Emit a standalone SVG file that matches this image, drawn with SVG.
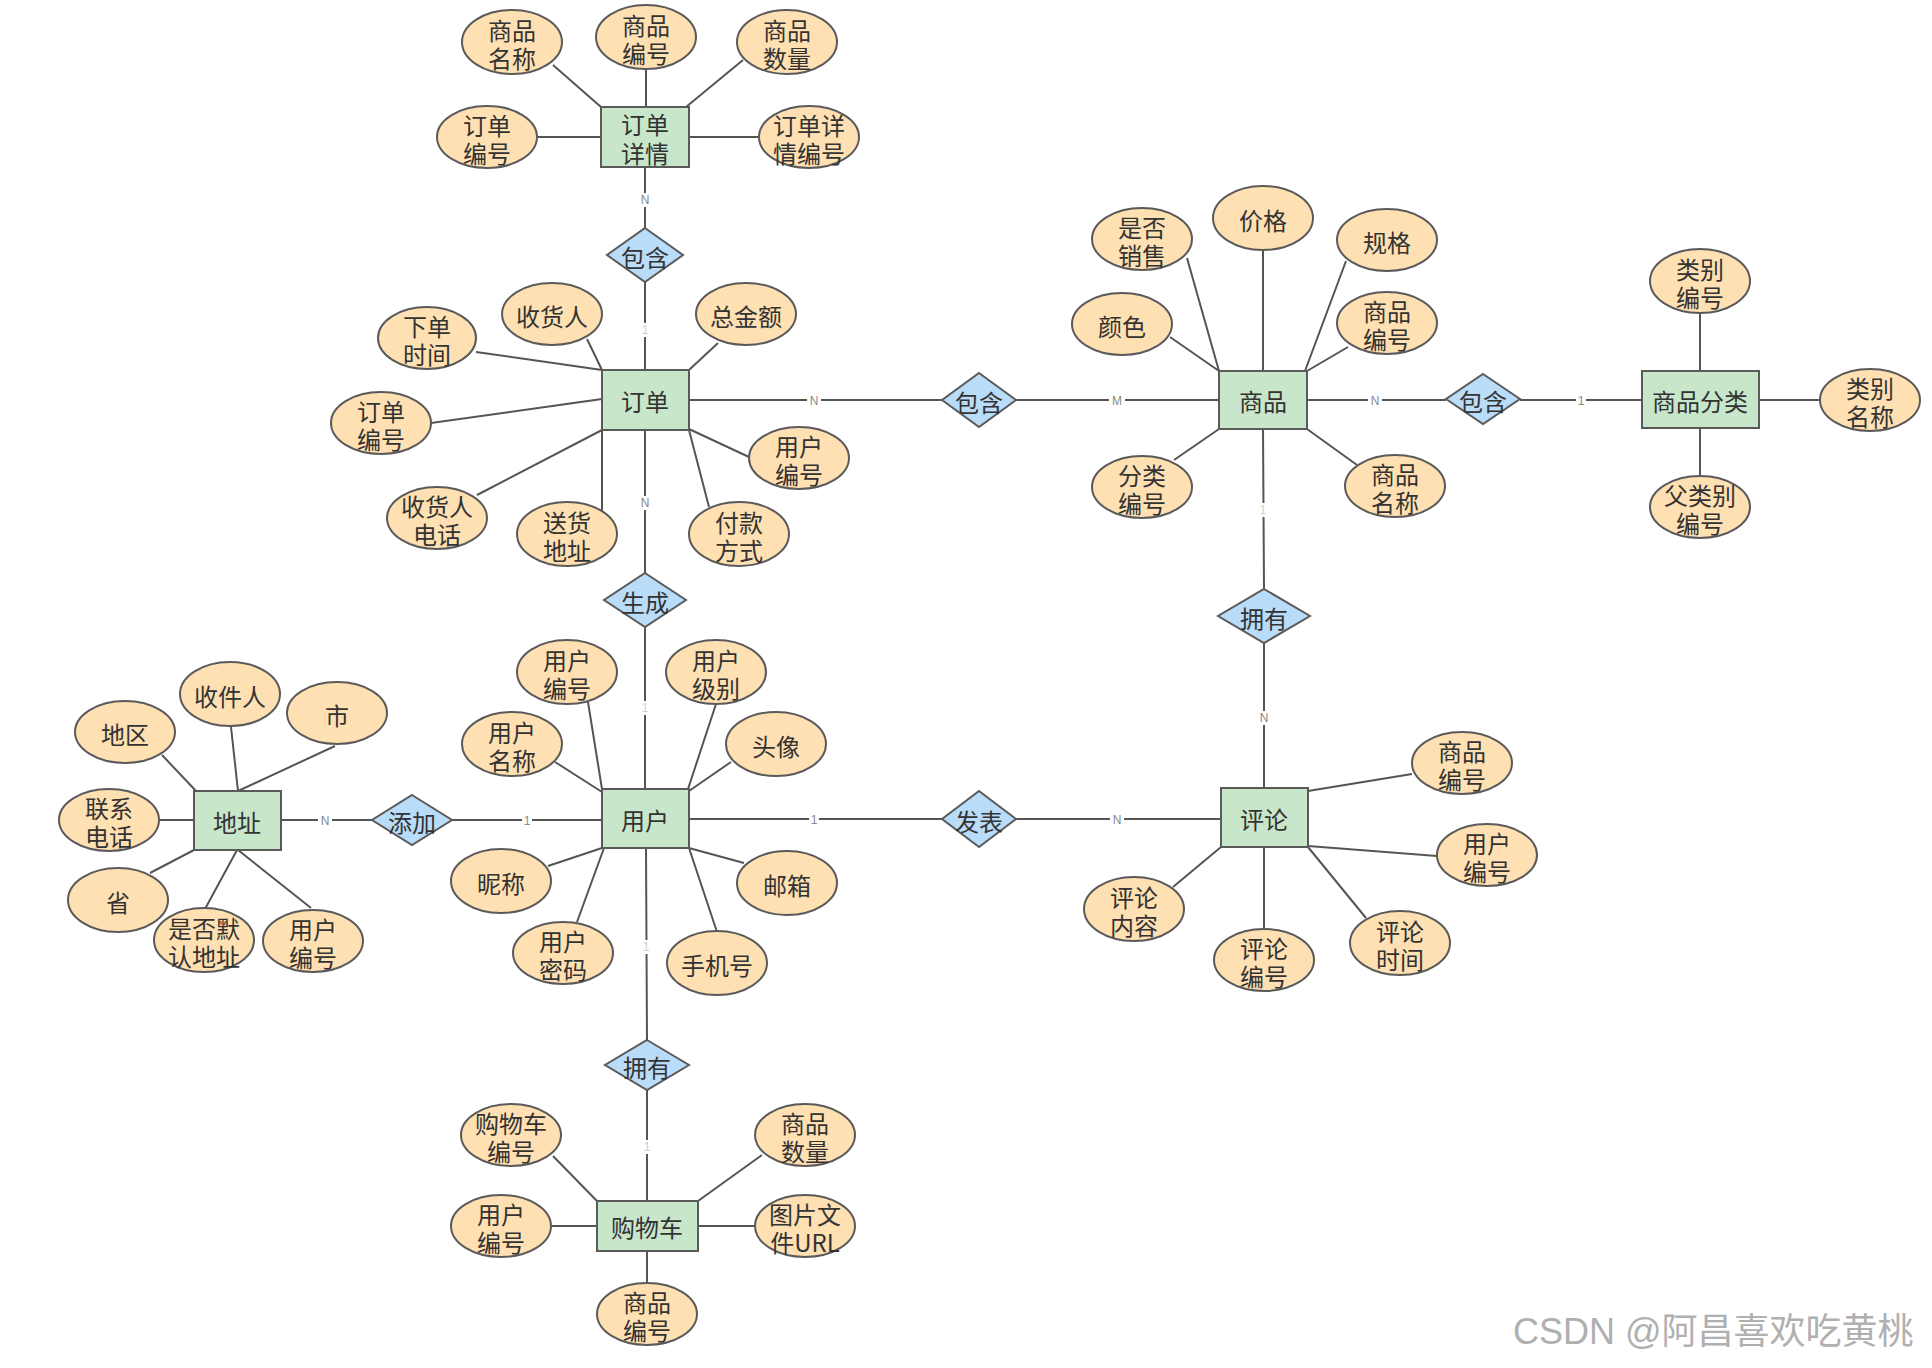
<svg xmlns="http://www.w3.org/2000/svg" width="1932" height="1368" viewBox="0 0 1932 1368">
<style>
.attr{fill:#fee0b2;stroke:#5a5a5a;stroke-width:2}
.ent{fill:#c8e6c9;stroke:#5a5a5a;stroke-width:2}
.rel{fill:#b9dcf8;stroke:#5a5a5a;stroke-width:2}
.ln{stroke:#555;stroke-width:2;fill:none}
.t{font-family:"Noto Sans CJK SC","Noto Sans",sans-serif;font-size:24px;fill:#333;text-anchor:middle;dominant-baseline:central}
.lb{font-family:"Liberation Sans","Noto Sans",sans-serif;font-size:12px;fill:#888;text-anchor:middle;dominant-baseline:central}
.lb1{font-family:"Liberation Sans","Noto Sans",sans-serif;font-size:12px;fill:#cfcfcf;text-anchor:middle;dominant-baseline:central}
.bg{fill:#fff}
.wm{font-family:"Liberation Sans","Noto Sans CJK SC",sans-serif;font-size:36px;fill:#b0b0b0}
</style>
<rect width="1932" height="1368" fill="#fff"/>
<g id="connectors">
<path class="ln" d="M553 65L601 107M646 69L646 107M743 60L686 107M537 137L601 137M759 137L689 137"/>
<path class="ln" d="M476 352L602 370M587 339L602 370M718 343L689 370M431 423L602 399M477 495L602 430M602 511L602 430M709 507L689 430M749 457L689 429"/>
<path class="ln" d="M1187 258L1219 371M1263 250L1263 371M1346 261L1305 371M1170 337L1219 371M1348 347L1307 371M1174 460L1219 429M1357 465L1307 429"/>
<path class="ln" d="M1700 313L1700 371M1759 400L1820 400M1700 428L1700 476"/>
<path class="ln" d="M162 755L196 791M231 727L238 791M335 746L238 791M159 820L194 820M150 873L194 850M205 909L237 850M311 908L238 850"/>
<path class="ln" d="M588 702L602 789M716 704L688 789M555 762L602 792M731 762L689 791M548 866L602 848M577 922L604 848M744 863L689 848M717 932L689 848"/>
<path class="ln" d="M1412 774L1308 791M1437 856L1308 846M1173 887L1221 847M1264 847L1264 929M1366 918L1308 847"/>
<path class="ln" d="M553 1156L597 1201M762 1155L698 1201M551 1226L597 1226M698 1226L755 1226M647 1251L647 1283"/>
<path class="ln" d="M645 167L645 228M645 282L645 370M689 400L942 400M1016 400L1219 400M1307 400L1446 400M1520 400L1642 400M1263 429L1264 589M1264 643L1264 788M645 430L645 573M645 627L645 789M281 820L372 820M452 820L602 820M689 819L942 819M1016 819L1221 819M646 848L647 1040M647 1090L647 1201"/>
<rect class="bg" x="639" y="193" width="12" height="14"/><text class="lb" x="645" y="200">N</text>
<rect class="bg" x="640" y="323" width="10" height="14"/><text class="lb1" x="645" y="330">1</text>
<rect class="bg" x="807" y="393" width="14" height="14"/><text class="lb" x="814" y="401">N</text>
<rect class="bg" x="1109" y="393" width="16" height="14"/><text class="lb" x="1117" y="401">M</text>
<rect class="bg" x="1368" y="393" width="14" height="14"/><text class="lb" x="1375" y="401">N</text>
<rect class="bg" x="1576" y="393" width="10" height="14"/><text class="lb" x="1581" y="401">1</text>
<rect class="bg" x="1258" y="503" width="10" height="14"/><text class="lb1" x="1263" y="510">1</text>
<rect class="bg" x="1257" y="711" width="14" height="14"/><text class="lb" x="1264" y="718">N</text>
<rect class="bg" x="638" y="496" width="14" height="14"/><text class="lb" x="645" y="503">N</text>
<rect class="bg" x="640" y="701" width="10" height="14"/><text class="lb1" x="645" y="708">1</text>
<rect class="bg" x="318" y="813" width="14" height="14"/><text class="lb" x="325" y="821">N</text>
<rect class="bg" x="522" y="813" width="10" height="14"/><text class="lb" x="527" y="821">1</text>
<rect class="bg" x="809" y="812" width="10" height="14"/><text class="lb" x="814" y="820">1</text>
<rect class="bg" x="1110" y="812" width="14" height="14"/><text class="lb" x="1117" y="820">N</text>
<rect class="bg" x="641" y="940" width="10" height="14"/><text class="lb1" x="646" y="947">1</text>
<rect class="bg" x="642" y="1140" width="10" height="14"/><text class="lb1" x="647" y="1147">1</text>
</g>

<g id="e-dingdanxiangqing">
<rect class="ent" x="601" y="107" width="88" height="60"/>
<text class="t"><tspan x="645" y="123">订单</tspan><tspan x="645" y="152">详情</tspan></text>
</g>
<g id="a-dxq-spmc"><ellipse class="attr" cx="512" cy="42" rx="50" ry="32"/><text class="t"><tspan x="512" y="29">商品</tspan><tspan x="512" y="57">名称</tspan></text></g>
<g id="a-dxq-spbh"><ellipse class="attr" cx="646" cy="37" rx="50" ry="32"/><text class="t"><tspan x="646" y="24">商品</tspan><tspan x="646" y="52">编号</tspan></text></g>
<g id="a-dxq-spsl"><ellipse class="attr" cx="787" cy="42" rx="50" ry="32"/><text class="t"><tspan x="787" y="29">商品</tspan><tspan x="787" y="57">数量</tspan></text></g>
<g id="a-dxq-ddbh"><ellipse class="attr" cx="487" cy="137" rx="50" ry="31"/><text class="t"><tspan x="487" y="124">订单</tspan><tspan x="487" y="152">编号</tspan></text></g>
<g id="a-dxq-xqbh"><ellipse class="attr" cx="809" cy="137" rx="50" ry="31"/><text class="t"><tspan x="809" y="124">订单详</tspan><tspan x="809" y="152">情编号</tspan></text></g>

<g id="r-baohan1"><polygon class="rel" points="645,228 683,255 645,282 607,255"/><text class="t" x="645" y="256">包含</text></g>

<g id="e-dingdan">
<rect class="ent" x="602" y="370" width="87" height="60"/>
<text class="t" x="645" y="400">订单</text>
</g>
<g id="a-dd-xdsj"><ellipse class="attr" cx="427" cy="338" rx="49" ry="31"/><text class="t"><tspan x="427" y="325">下单</tspan><tspan x="427" y="353">时间</tspan></text></g>
<g id="a-dd-shr"><ellipse class="attr" cx="552" cy="314" rx="50" ry="31"/><text class="t" x="552" y="315">收货人</text></g>
<g id="a-dd-zje"><ellipse class="attr" cx="746" cy="314" rx="50" ry="31"/><text class="t" x="746" y="315">总金额</text></g>
<g id="a-dd-ddbh"><ellipse class="attr" cx="381" cy="423" rx="50" ry="31"/><text class="t"><tspan x="381" y="410">订单</tspan><tspan x="381" y="438">编号</tspan></text></g>
<g id="a-dd-yhbh"><ellipse class="attr" cx="799" cy="458" rx="50" ry="31"/><text class="t"><tspan x="799" y="445">用户</tspan><tspan x="799" y="473">编号</tspan></text></g>
<g id="a-dd-shrdh"><ellipse class="attr" cx="437" cy="518" rx="50" ry="31"/><text class="t"><tspan x="437" y="505">收货人</tspan><tspan x="437" y="533">电话</tspan></text></g>
<g id="a-dd-shdz"><ellipse class="attr" cx="567" cy="534" rx="50" ry="32"/><text class="t"><tspan x="567" y="521">送货</tspan><tspan x="567" y="549">地址</tspan></text></g>
<g id="a-dd-fkfs"><ellipse class="attr" cx="739" cy="534" rx="50" ry="32"/><text class="t"><tspan x="739" y="521">付款</tspan><tspan x="739" y="549">方式</tspan></text></g>

<g id="r-baohan2"><polygon class="rel" points="979,373 1016,400 979,427 942,400"/><text class="t" x="979" y="401">包含</text></g>

<g id="e-shangpin">
<rect class="ent" x="1219" y="371" width="88" height="58"/>
<text class="t" x="1263" y="400">商品</text>
</g>
<g id="a-sp-sfxs"><ellipse class="attr" cx="1142" cy="239" rx="50" ry="31"/><text class="t"><tspan x="1142" y="226">是否</tspan><tspan x="1142" y="254">销售</tspan></text></g>
<g id="a-sp-jg"><ellipse class="attr" cx="1263" cy="218" rx="50" ry="32"/><text class="t" x="1263" y="219">价格</text></g>
<g id="a-sp-gg"><ellipse class="attr" cx="1387" cy="240" rx="50" ry="31"/><text class="t" x="1387" y="241">规格</text></g>
<g id="a-sp-ys"><ellipse class="attr" cx="1122" cy="324" rx="50" ry="31"/><text class="t" x="1122" y="325">颜色</text></g>
<g id="a-sp-spbh"><ellipse class="attr" cx="1387" cy="323" rx="50" ry="31"/><text class="t"><tspan x="1387" y="310">商品</tspan><tspan x="1387" y="338">编号</tspan></text></g>
<g id="a-sp-flbh"><ellipse class="attr" cx="1142" cy="487" rx="50" ry="31"/><text class="t"><tspan x="1142" y="474">分类</tspan><tspan x="1142" y="502">编号</tspan></text></g>
<g id="a-sp-spmc"><ellipse class="attr" cx="1395" cy="486" rx="50" ry="31"/><text class="t"><tspan x="1395" y="473">商品</tspan><tspan x="1395" y="501">名称</tspan></text></g>

<g id="r-baohan3"><polygon class="rel" points="1483,374 1520,399 1483,424 1446,399"/><text class="t" x="1483" y="400">包含</text></g>

<g id="e-shangpinfenlei">
<rect class="ent" x="1642" y="371" width="117" height="57"/>
<text class="t" x="1700" y="400">商品分类</text>
</g>
<g id="a-fl-lbbh"><ellipse class="attr" cx="1700" cy="281" rx="50" ry="32"/><text class="t"><tspan x="1700" y="268">类别</tspan><tspan x="1700" y="296">编号</tspan></text></g>
<g id="a-fl-lbmc"><ellipse class="attr" cx="1870" cy="400" rx="50" ry="31"/><text class="t"><tspan x="1870" y="387">类别</tspan><tspan x="1870" y="415">名称</tspan></text></g>
<g id="a-fl-flbbh"><ellipse class="attr" cx="1700" cy="507" rx="50" ry="31"/><text class="t"><tspan x="1700" y="494">父类别</tspan><tspan x="1700" y="522">编号</tspan></text></g>

<g id="r-yongyou1"><polygon class="rel" points="1264,589 1310,616 1264,643 1218,616"/><text class="t" x="1264" y="617">拥有</text></g>

<g id="r-shengcheng"><polygon class="rel" points="645,573 686,600 645,627 604,600"/><text class="t" x="645" y="601">生成</text></g>

<g id="e-dizhi">
<rect class="ent" x="194" y="791" width="87" height="59"/>
<text class="t" x="237" y="821">地址</text>
</g>
<g id="a-dz-sjr"><ellipse class="attr" cx="230" cy="694" rx="50" ry="32"/><text class="t" x="230" y="695">收件人</text></g>
<g id="a-dz-dq"><ellipse class="attr" cx="125" cy="732" rx="50" ry="31"/><text class="t" x="125" y="733">地区</text></g>
<g id="a-dz-s"><ellipse class="attr" cx="337" cy="713" rx="50" ry="31"/><text class="t" x="337" y="714">市</text></g>
<g id="a-dz-lxdh"><ellipse class="attr" cx="109" cy="820" rx="50" ry="31"/><text class="t"><tspan x="109" y="807">联系</tspan><tspan x="109" y="835">电话</tspan></text></g>
<g id="a-dz-sheng"><ellipse class="attr" cx="118" cy="900" rx="50" ry="32"/><text class="t" x="118" y="901">省</text></g>
<g id="a-dz-sfmr"><ellipse class="attr" cx="204" cy="940" rx="50" ry="32"/><text class="t"><tspan x="204" y="927">是否默</tspan><tspan x="204" y="955">认地址</tspan></text></g>
<g id="a-dz-yhbh"><ellipse class="attr" cx="313" cy="941" rx="50" ry="31"/><text class="t"><tspan x="313" y="928">用户</tspan><tspan x="313" y="956">编号</tspan></text></g>

<g id="r-tianjia"><polygon class="rel" points="412,795 452,820 412,845 372,820"/><text class="t" x="412" y="821">添加</text></g>

<g id="e-yonghu">
<rect class="ent" x="602" y="789" width="87" height="59"/>
<text class="t" x="645" y="819">用户</text>
</g>
<g id="a-yh-yhbh"><ellipse class="attr" cx="567" cy="672" rx="50" ry="32"/><text class="t"><tspan x="567" y="659">用户</tspan><tspan x="567" y="687">编号</tspan></text></g>
<g id="a-yh-yhjb"><ellipse class="attr" cx="716" cy="672" rx="50" ry="32"/><text class="t"><tspan x="716" y="659">用户</tspan><tspan x="716" y="687">级别</tspan></text></g>
<g id="a-yh-yhmc"><ellipse class="attr" cx="512" cy="744" rx="50" ry="32"/><text class="t"><tspan x="512" y="731">用户</tspan><tspan x="512" y="759">名称</tspan></text></g>
<g id="a-yh-tx"><ellipse class="attr" cx="776" cy="744" rx="50" ry="32"/><text class="t" x="776" y="745">头像</text></g>
<g id="a-yh-nc"><ellipse class="attr" cx="501" cy="881" rx="50" ry="32"/><text class="t" x="501" y="882">昵称</text></g>
<g id="a-yh-yx"><ellipse class="attr" cx="787" cy="883" rx="50" ry="32"/><text class="t" x="787" y="884">邮箱</text></g>
<g id="a-yh-yhmm"><ellipse class="attr" cx="563" cy="953" rx="50" ry="31"/><text class="t"><tspan x="563" y="940">用户</tspan><tspan x="563" y="968">密码</tspan></text></g>
<g id="a-yh-sjh"><ellipse class="attr" cx="717" cy="963" rx="50" ry="32"/><text class="t" x="717" y="964">手机号</text></g>

<g id="r-fabiao"><polygon class="rel" points="979,791 1016,819 979,847 942,819"/><text class="t" x="979" y="820">发表</text></g>

<g id="e-pinglun">
<rect class="ent" x="1221" y="788" width="87" height="59"/>
<text class="t" x="1264" y="818">评论</text>
</g>
<g id="a-pl-spbh"><ellipse class="attr" cx="1462" cy="763" rx="50" ry="31"/><text class="t"><tspan x="1462" y="750">商品</tspan><tspan x="1462" y="778">编号</tspan></text></g>
<g id="a-pl-yhbh"><ellipse class="attr" cx="1487" cy="855" rx="50" ry="31"/><text class="t"><tspan x="1487" y="842">用户</tspan><tspan x="1487" y="870">编号</tspan></text></g>
<g id="a-pl-plnr"><ellipse class="attr" cx="1134" cy="909" rx="50" ry="32"/><text class="t"><tspan x="1134" y="896">评论</tspan><tspan x="1134" y="924">内容</tspan></text></g>
<g id="a-pl-plbh"><ellipse class="attr" cx="1264" cy="960" rx="50" ry="31"/><text class="t"><tspan x="1264" y="947">评论</tspan><tspan x="1264" y="975">编号</tspan></text></g>
<g id="a-pl-plsj"><ellipse class="attr" cx="1400" cy="943" rx="50" ry="32"/><text class="t"><tspan x="1400" y="930">评论</tspan><tspan x="1400" y="958">时间</tspan></text></g>

<g id="r-yongyou2"><polygon class="rel" points="647,1040 689,1065 647,1090 605,1065"/><text class="t" x="647" y="1066">拥有</text></g>

<g id="e-gouwuche">
<rect class="ent" x="597" y="1201" width="101" height="50"/>
<text class="t" x="647" y="1226">购物车</text>
</g>
<g id="a-gwc-gwcbh"><ellipse class="attr" cx="511" cy="1135" rx="50" ry="31"/><text class="t"><tspan x="511" y="1122">购物车</tspan><tspan x="511" y="1150">编号</tspan></text></g>
<g id="a-gwc-spsl"><ellipse class="attr" cx="805" cy="1135" rx="50" ry="31"/><text class="t"><tspan x="805" y="1122">商品</tspan><tspan x="805" y="1150">数量</tspan></text></g>
<g id="a-gwc-yhbh"><ellipse class="attr" cx="501" cy="1226" rx="50" ry="31"/><text class="t"><tspan x="501" y="1213">用户</tspan><tspan x="501" y="1241">编号</tspan></text></g>
<g id="a-gwc-tpwj"><ellipse class="attr" cx="805" cy="1226" rx="50" ry="31"/><text class="t"><tspan x="805" y="1213">图片文</tspan><tspan x="805" y="1241">件URL</tspan></text></g>
<g id="a-gwc-spbh"><ellipse class="attr" cx="647" cy="1314" rx="50" ry="31"/><text class="t"><tspan x="647" y="1301">商品</tspan><tspan x="647" y="1329">编号</tspan></text></g>

<text class="wm" x="1513" y="1344">CSDN @阿昌喜欢吃黄桃</text>
</svg>
